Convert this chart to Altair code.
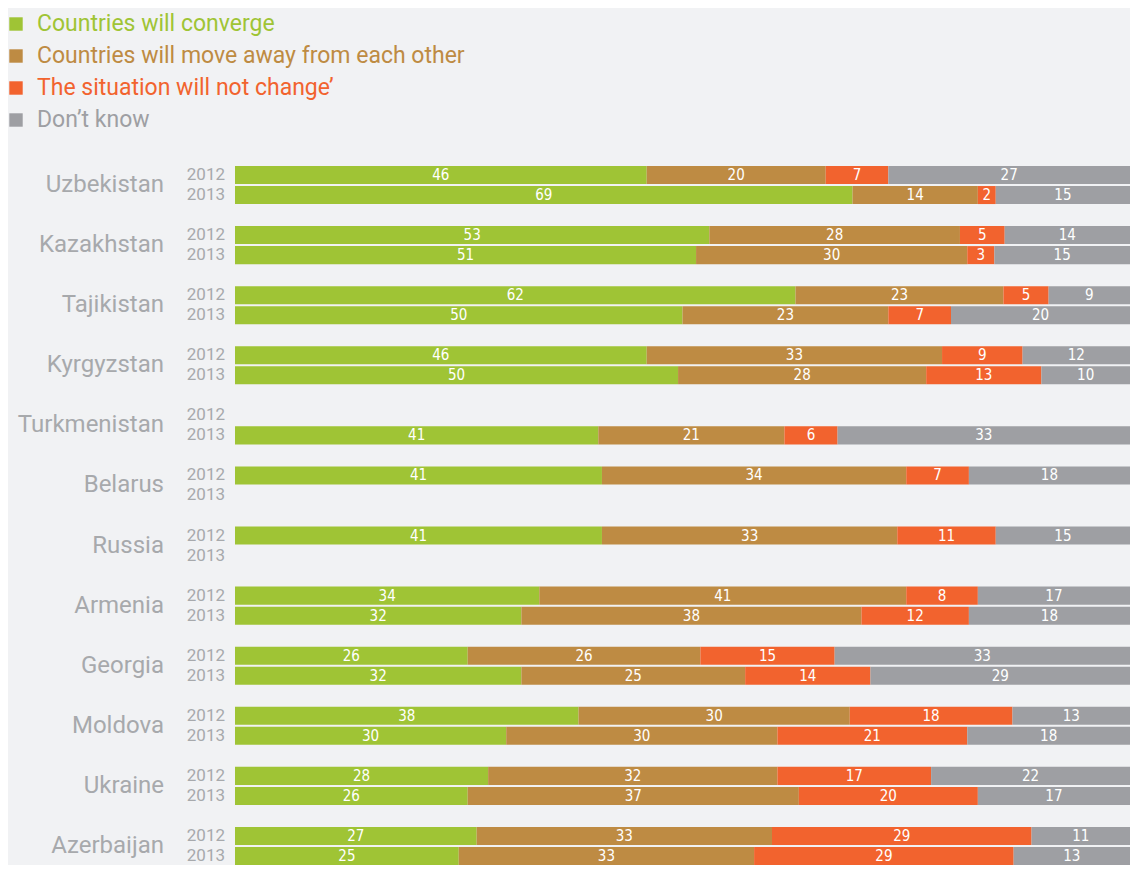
import altair as alt
import pandas as pd

countries = ["Uzbekistan", "Kazakhstan", "Tajikistan", "Kyrgyzstan", "Turkmenistan", "Belarus",
             "Russia", "Armenia", "Georgia", "Moldova", "Ukraine", "Azerbaijan"]
years = ["2012", "2013"]
categories = ["Countries will converge", "Countries will move away from each other",
              "The situation will not change\u2019", "Don\u2019t know"]
colors = ["#9FC435", "#BE8B43", "#F2632E", "#9E9FA3"]

converge_2012 = [46, 53, 62, 46, None, 41, 41, 34, 26, 38, 28, 27]
converge_2013 = [69, 51, 50, 50, 41, None, None, 32, 32, 30, 26, 25]
away_2012 = [20, 28, 23, 33, None, 34, 33, 41, 26, 30, 32, 33]
away_2013 = [14, 30, 23, 28, 21, None, None, 38, 25, 30, 37, 33]
nochange_2012 = [7, 5, 5, 9, None, 7, 11, 8, 15, 18, 17, 29]
nochange_2013 = [2, 3, 7, 13, 6, None, None, 12, 14, 21, 20, 29]
dontknow_2012 = [27, 14, 9, 12, None, 18, 15, 17, 33, 13, 22, 11]
dontknow_2013 = [15, 15, 20, 10, 33, None, None, 18, 29, 18, 17, 13]

series = {
    ("2012", 0): converge_2012, ("2013", 0): converge_2013,
    ("2012", 1): away_2012, ("2013", 1): away_2013,
    ("2012", 2): nochange_2012, ("2013", 2): nochange_2013,
    ("2012", 3): dontknow_2012, ("2013", 3): dontknow_2013,
}

rows = []
for (yr, ci), vals in series.items():
    for c, v in zip(countries, vals):
        if v is not None:
            rows.append({"key": f"{c}|{yr}", "country": c, "year": yr,
                         "category": categories[ci], "order": ci, "value": v})
df = pd.DataFrame(rows)

# y domain: 2012, 2013, spacer for every country
domain_keys = []
for i, c in enumerate(countries):
    domain_keys += [f"{c}|2012", f"{c}|2013"]
    if i < len(countries) - 1:
        domain_keys.append(f"{c}|sp")

lab_df = pd.DataFrame([{"key": f"{c}|{y}", "country": c, "year": y} for c in countries for y in years])
leg_df = pd.DataFrame({"category": categories, "i": list(range(len(categories)))})

yscale = alt.Scale(domain=domain_keys, paddingInner=0.1, paddingOuter=0)
cscale = alt.Scale(domain=categories, range=colors)

base = alt.Chart(df).transform_stack(
    stack="value", groupby=["key"], as_=["x0", "x1"], offset="normalize",
    sort=[alt.SortField("order", order="ascending")]
).transform_calculate(mid="(datum.x0 + datum.x1) / 2")

bars = base.mark_bar().encode(
    x=alt.X("x0:Q", scale=alt.Scale(domain=[0, 1]), axis=None),
    x2="x1:Q",
    y=alt.Y("key:N", scale=yscale, axis=None),
    color=alt.Color("category:N", scale=cscale, legend=None),
)

narrow = "'Liberation Sans Narrow', 'DejaVu Sans Condensed', 'Roboto Condensed', Roboto, sans-serif"
vals = base.mark_text(font=narrow, fontSize=15, color="white", baseline="middle").encode(
    x=alt.X("mid:Q", scale=alt.Scale(domain=[0, 1]), axis=None),
    y=alt.Y("key:N", scale=yscale, axis=None),
    text=alt.Text("value:Q"),
)

year_lab = alt.Chart(lab_df).mark_text(font="Roboto", fontSize=17, color="#A7A9AC",
                                       align="right", baseline="middle").encode(
    x=alt.value(-10),
    y=alt.Y("key:N", scale=yscale, axis=None),
    text="year:N",
)

country_lab = alt.Chart(lab_df).transform_filter("datum.year == '2012'").mark_text(
    font="Roboto", fontSize=24, color="#A7A9AC", align="right", baseline="middle", dy=10).encode(
    x=alt.value(-71),
    y=alt.Y("key:N", scale=yscale, axis=None),
    text="country:N",
)

main = alt.layer(bars, vals, year_lab, country_lab)

leg_base = alt.Chart(leg_df).transform_calculate(ly="-142 + datum.i * 32")
leg_sq = leg_base.mark_square(size=180, opacity=1, filled=True).encode(
    x=alt.value(-219),
    y=alt.Y("ly:Q", scale=None, axis=None),
    color=alt.Color("category:N", scale=cscale, legend=None),
)
leg_txt = leg_base.mark_text(font="Roboto", fontSize=23, align="left", baseline="middle").encode(
    x=alt.value(-198),
    y=alt.Y("ly:Q", scale=None, axis=None),
    text="category:N",
    color=alt.Color("category:N", scale=cscale, legend=None),
)

chart = alt.layer(main, leg_sq, leg_txt).resolve_scale(y="independent").properties(
    width=895, height=699,
    autosize=alt.AutoSizeParams(type="none"),
    padding={"left": 227, "top": 158, "right": 0, "bottom": 0},
    background="#F1F2F4",
).configure_view(stroke=None)

chart.save("out.html", embed_options={"renderer": "svg", "actions": False})
